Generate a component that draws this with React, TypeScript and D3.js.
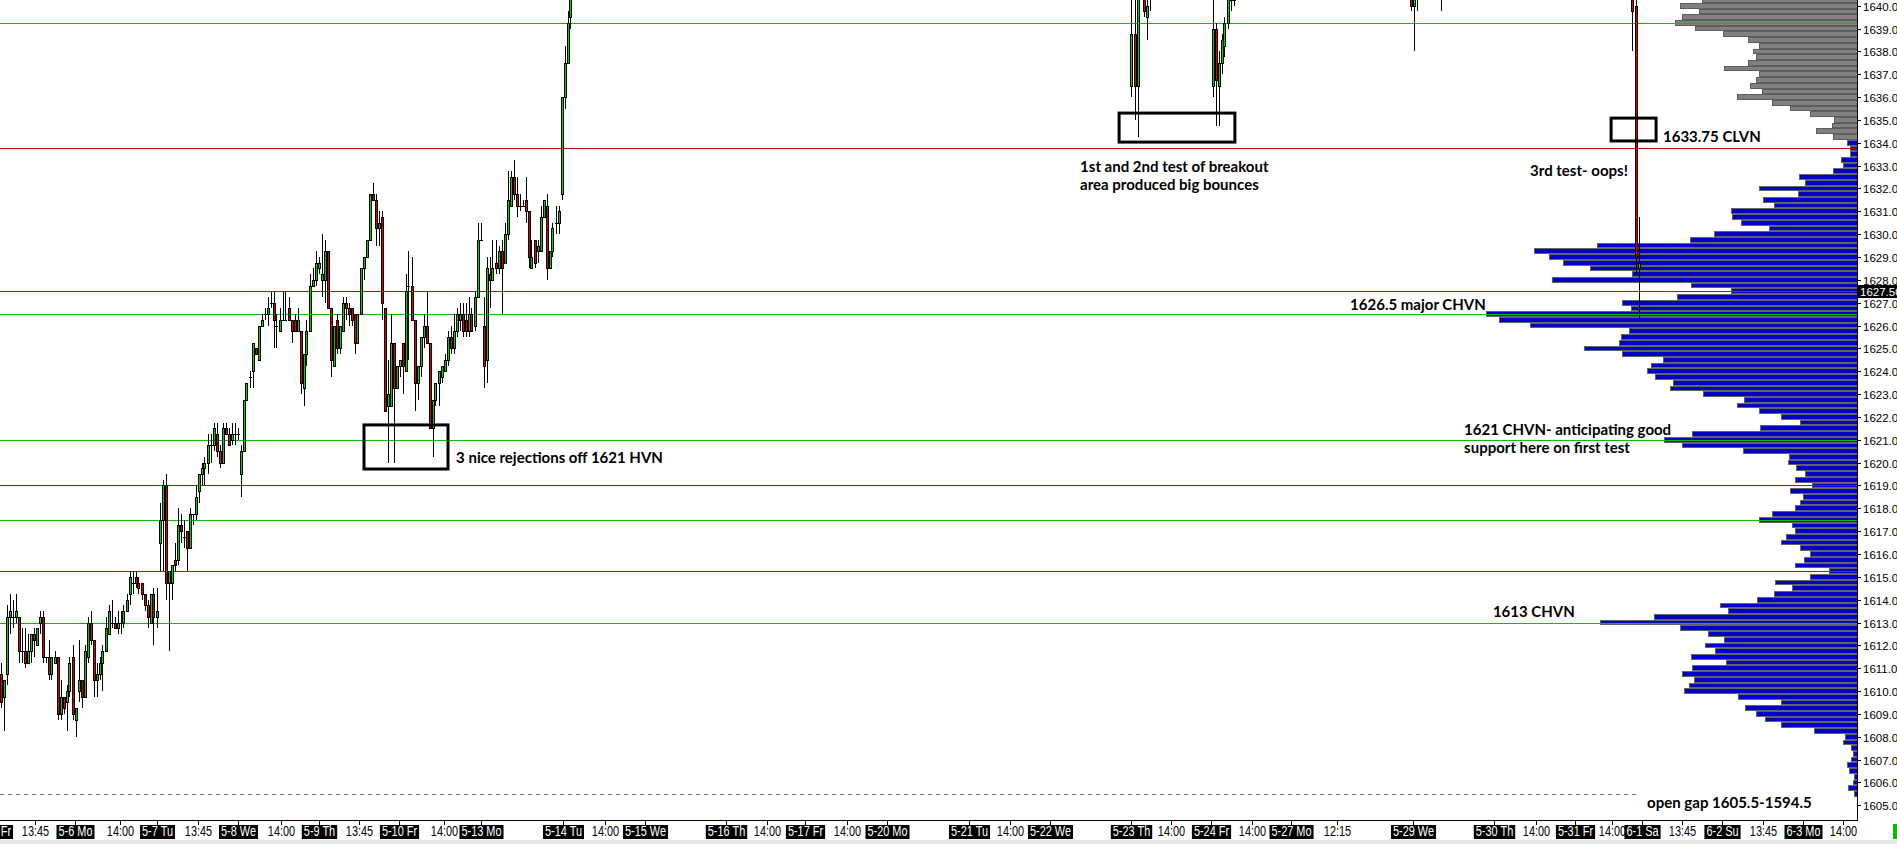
import { useEffect, useRef } from 'react';
import * as d3 from 'd3';

const W = 1897;
const H = 844;
const PLOT_RIGHT = 1857;
const PLOT_BOTTOM = 820;

// first session, one bar per slot starting at bar 0
const sessionOpen = [
  1610.75, 1609.75, 1610.75, 1613.25, 1613.25, 1613.25, 1613.25, 1611.75, 1611.75, 1611.25,
  1611.75, 1612.5, 1612.0, 1613.0, 1613.25, 1611.5, 1611.5, 1610.75, 1611.25, 1611.5,
  1609.0, 1609.75, 1609.5, 1610.0, 1611.5, 1608.75, 1610.0, 1610.5, 1609.75, 1611.5,
  1613.0, 1612.25, 1610.5, 1610.75, 1611.25, 1611.75, 1612.5, 1613.0, 1613.0, 1612.75,
  1613.0, 1613.0, 1613.5, 1614.25, 1614.75, 1615.0, 1614.75, 1614.75, 1614.25, 1613.75,
  1613.0, 1614.25, 1613.25, 1616.5, 1617.5, 1619.0, 1614.75, 1614.75, 1615.75, 1615.75,
  1617.25, 1616.75, 1617.0, 1616.25, 1617.75, 1617.75, 1618.75, 1619.5, 1619.75, 1620.0,
  1620.75, 1620.75, 1621.25, 1620.5, 1620.0, 1621.5, 1621.25, 1621.0, 1621.25, 1621.25,
  1619.5, 1620.5, 1622.75, 1623.75, 1624.0, 1625.0, 1624.5, 1626.0, 1626.5, 1626.5,
  1627.0, 1627.0, 1626.0, 1625.75, 1626.25, 1626.25, 1626.75, 1626.25, 1626.25, 1625.75,
  1625.75, 1623.25, 1624.75, 1625.75, 1627.75, 1628.0, 1628.5, 1628.0, 1628.0, 1629.25,
  1626.75, 1624.25, 1626.25, 1625.0, 1625.75, 1627.0, 1626.75, 1626.75, 1626.5, 1625.25,
  1626.5, 1628.5, 1629.0, 1629.75, 1631.75, 1631.5, 1630.25, 1630.75, 1626.75, 1622.5,
  1622.5, 1625.25, 1623.25, 1624.25, 1625.25, 1624.0, 1627.75, 1627.75, 1626.25, 1623.5,
  1624.25, 1625.5, 1626.0, 1625.25, 1621.5, 1622.75, 1623.5, 1623.75, 1624.0, 1624.5,
  1625.5, 1625.0, 1625.75, 1626.25, 1626.5, 1626.25, 1625.75, 1626.5, 1626.0, 1627.25,
  1629.75, 1626.0, 1624.5, 1628.25, 1628.0, 1628.75, 1628.5, 1629.25, 1628.75, 1630.0,
  1631.25, 1632.5, 1631.75, 1631.25, 1631.25, 1631.5, 1631.0, 1628.5, 1629.75, 1629.25,
  1629.25, 1630.75, 1631.25, 1628.5, 1629.25, 1630.5, 1630.5, 1631.75, 1636.0, 1637.5,
  1639.5
];
const sessionHigh = [
  1611.25, 1610.5, 1613.75, 1614.25, 1614.0, 1614.25, 1613.25, 1612.75, 1612.75, 1612.5,
  1612.5, 1612.75, 1612.75, 1613.5, 1613.5, 1611.5, 1612.25, 1611.5, 1611.75, 1611.5,
  1610.5, 1609.75, 1610.25, 1611.5, 1612.0, 1609.25, 1612.25, 1610.5, 1612.0, 1613.25,
  1613.5, 1612.25, 1611.25, 1611.5, 1612.0, 1613.25, 1613.75, 1614.0, 1613.25, 1613.5,
  1613.5, 1613.75, 1614.25, 1615.25, 1615.25, 1615.25, 1615.0, 1614.75, 1614.25, 1614.0,
  1614.25, 1614.5, 1614.5, 1618.25, 1619.25, 1619.5, 1615.25, 1615.5, 1616.5, 1618.0,
  1617.75, 1617.5, 1617.0, 1618.0, 1617.75, 1619.0, 1619.5, 1620.0, 1620.25, 1621.25,
  1621.25, 1621.75, 1621.75, 1620.75, 1621.75, 1621.75, 1621.5, 1621.75, 1621.75, 1621.5,
  1620.75, 1622.75, 1623.5, 1624.0, 1625.25, 1625.0, 1626.0, 1626.5, 1626.75, 1627.25,
  1627.5, 1627.5, 1626.5, 1626.75, 1627.5, 1627.5, 1627.25, 1626.25, 1626.5, 1626.75,
  1625.75, 1624.75, 1626.25, 1628.25, 1628.5, 1629.25, 1629.0, 1630.0, 1629.75, 1629.25,
  1626.75, 1626.0, 1626.5, 1626.0, 1627.25, 1627.25, 1627.0, 1626.75, 1626.5, 1626.5,
  1628.5, 1629.0, 1629.75, 1631.75, 1632.25, 1631.75, 1631.0, 1631.0, 1626.75, 1624.5,
  1626.5, 1625.25, 1624.25, 1624.5, 1625.25, 1628.25, 1629.25, 1629.0, 1626.25, 1624.25,
  1625.5, 1626.5, 1627.5, 1625.25, 1622.75, 1623.5, 1624.0, 1624.25, 1624.75, 1625.75,
  1626.0, 1626.5, 1626.75, 1627.0, 1627.0, 1627.0, 1627.25, 1626.75, 1627.5, 1630.5,
  1630.5, 1627.25, 1629.0, 1629.0, 1629.75, 1629.75, 1629.5, 1629.75, 1630.5, 1632.75,
  1632.75, 1633.25, 1632.5, 1631.75, 1631.5, 1632.5, 1631.0, 1629.75, 1629.75, 1629.75,
  1631.25, 1631.5, 1631.75, 1629.25, 1630.5, 1631.25, 1631.25, 1636.0, 1638.25, 1639.75,
  1641.5
];
const sessionLow = [
  1609.25, 1608.25, 1610.25, 1612.5, 1612.75, 1613.0, 1611.25, 1611.25, 1611.0, 1611.25,
  1611.25, 1611.5, 1612.0, 1612.5, 1611.25, 1611.25, 1610.5, 1610.5, 1611.25, 1608.75,
  1608.75, 1609.0, 1608.25, 1609.75, 1608.75, 1608.0, 1609.5, 1609.25, 1609.75, 1611.25,
  1612.0, 1609.75, 1609.75, 1610.5, 1610.0, 1611.75, 1612.5, 1612.75, 1612.75, 1612.5,
  1612.5, 1612.75, 1613.5, 1613.75, 1614.25, 1614.5, 1614.25, 1614.0, 1613.5, 1612.75,
  1613.0, 1612.0, 1612.75, 1615.25, 1615.25, 1614.0, 1611.75, 1614.0, 1615.25, 1615.5,
  1616.5, 1616.25, 1615.25, 1616.25, 1617.25, 1617.5, 1618.25, 1619.0, 1619.0, 1619.5,
  1620.0, 1620.5, 1620.25, 1619.75, 1620.0, 1621.25, 1620.75, 1620.75, 1620.75, 1621.0,
  1618.5, 1620.5, 1622.75, 1623.25, 1623.25, 1624.75, 1624.5, 1626.0, 1626.25, 1626.0,
  1626.75, 1625.0, 1625.0, 1625.75, 1626.25, 1626.25, 1626.25, 1625.25, 1625.75, 1625.75,
  1623.0, 1622.5, 1624.25, 1625.75, 1627.75, 1627.75, 1628.25, 1627.25, 1627.0, 1626.75,
  1623.75, 1624.25, 1624.75, 1624.75, 1625.75, 1626.25, 1626.0, 1626.0, 1624.75, 1625.25,
  1626.5, 1628.0, 1629.0, 1629.75, 1631.5, 1629.5, 1629.5, 1626.25, 1622.25, 1620.0,
  1622.5, 1620.0, 1623.25, 1623.75, 1623.0, 1624.0, 1624.5, 1626.25, 1622.25, 1622.75,
  1623.75, 1625.0, 1625.25, 1621.5, 1620.25, 1622.5, 1622.5, 1623.5, 1624.0, 1624.25,
  1624.75, 1624.75, 1625.5, 1625.75, 1625.5, 1625.5, 1625.5, 1625.75, 1625.75, 1627.25,
  1629.75, 1623.25, 1623.5, 1626.75, 1628.0, 1628.25, 1628.25, 1626.5, 1628.75, 1629.75,
  1631.25, 1631.5, 1630.75, 1631.0, 1631.25, 1630.5, 1628.5, 1628.5, 1628.5, 1628.75,
  1629.25, 1630.75, 1628.0, 1628.5, 1629.0, 1630.0, 1630.0, 1631.5, 1635.5, 1637.5,
  1639.0
];
const sessionClose = [
  1609.5, 1610.5, 1613.25, 1613.5, 1613.25, 1613.5, 1611.75, 1611.75, 1611.25, 1611.75,
  1612.5, 1612.25, 1612.75, 1613.25, 1611.5, 1611.5, 1610.75, 1611.5, 1611.5, 1609.0,
  1609.75, 1609.25, 1610.0, 1611.25, 1609.0, 1609.25, 1610.5, 1609.75, 1611.75, 1613.0,
  1612.25, 1610.5, 1610.75, 1611.25, 1611.75, 1612.75, 1613.5, 1613.0, 1612.75, 1613.0,
  1613.0, 1613.5, 1614.0, 1615.0, 1614.75, 1614.75, 1614.5, 1614.25, 1613.75, 1613.25,
  1614.25, 1613.25, 1613.5, 1617.5, 1619.0, 1614.75, 1615.25, 1615.5, 1615.5, 1617.25,
  1617.0, 1616.75, 1616.25, 1617.75, 1617.75, 1618.5, 1619.5, 1619.75, 1620.0, 1620.75,
  1620.75, 1621.5, 1620.5, 1620.0, 1621.5, 1621.25, 1620.75, 1621.25, 1621.25, 1621.25,
  1620.5, 1622.75, 1623.5, 1623.75, 1625.25, 1624.75, 1626.0, 1626.25, 1626.5, 1626.75,
  1627.0, 1626.25, 1626.0, 1626.25, 1626.25, 1626.25, 1626.25, 1625.75, 1625.75, 1626.25,
  1623.5, 1624.75, 1625.75, 1627.75, 1628.0, 1628.75, 1628.75, 1628.25, 1629.25, 1626.75,
  1624.5, 1626.0, 1625.0, 1626.0, 1627.0, 1626.75, 1626.5, 1626.25, 1625.25, 1626.5,
  1628.5, 1629.0, 1629.75, 1631.75, 1631.5, 1630.25, 1630.5, 1627.0, 1622.25, 1623.0,
  1625.25, 1623.25, 1624.25, 1624.5, 1624.25, 1627.5, 1627.75, 1626.25, 1623.5, 1624.25,
  1625.5, 1626.0, 1625.25, 1621.5, 1622.75, 1623.5, 1624.0, 1624.25, 1624.5, 1625.5,
  1625.0, 1625.75, 1626.5, 1626.5, 1625.75, 1625.75, 1626.5, 1625.75, 1627.25, 1629.75,
  1629.75, 1624.25, 1628.5, 1628.0, 1628.5, 1628.5, 1629.25, 1628.5, 1630.0, 1631.5,
  1632.5, 1631.75, 1631.25, 1631.25, 1631.25, 1631.0, 1629.0, 1629.0, 1628.75, 1629.5,
  1630.75, 1631.5, 1628.5, 1629.25, 1630.25, 1630.5, 1631.0, 1636.0, 1637.5, 1639.25,
  1641.0
];

// later bars that dip down into the visible range
const laterBar = [377, 378, 379, 380, 381, 382, 383, 404, 405, 406, 407, 408, 409, 410, 411, 470, 471, 472, 480, 544, 545, 546];
const laterOpen = [1636.5, 1638.75, 1636.5, 1641.0, 1641.0, 1639.5, 1641.0, 1636.5, 1639.0, 1636.5, 1637.5, 1638.25, 1639.25, 1640.75, 1640.25, 1641.0, 1640.0, 1640.5, 1641.0, 1641.0, 1640.0, 1628.5];
const laterHigh = [1641.0, 1641.0, 1642.0, 1642.0, 1641.5, 1640.5, 1642.0, 1640.5, 1639.25, 1638.0, 1638.75, 1639.5, 1641.0, 1641.25, 1641.5, 1641.25, 1641.0, 1641.25, 1641.5, 1641.5, 1640.5, 1630.75];
const laterLow = [1636.0, 1635.0, 1634.25, 1640.5, 1639.5, 1638.5, 1639.75, 1636.0, 1634.75, 1634.75, 1637.0, 1637.75, 1639.0, 1639.75, 1640.0, 1639.75, 1638.0, 1639.75, 1639.75, 1638.0, 1628.25, 1626.25];
const laterClose = [1638.75, 1636.5, 1641.0, 1641.5, 1639.75, 1640.0, 1641.5, 1639.0, 1636.75, 1637.5, 1638.5, 1639.25, 1640.5, 1640.25, 1641.0, 1640.0, 1640.5, 1641.0, 1640.5, 1639.75, 1629.0, 1628.75];

// volume profile, one row per 0.25 from 1640.25 down to 1605.5
const profileTopPrice = 1640.25;
const profileGrayFrom = 1634.25;
const profileVolume = [
  155, 177, 158, 175, 182, 162, 134, 109, 98, 104,
  101, 109, 133, 98, 101, 107, 95, 120, 85, 67,
  47, 23, 25, 41, 24, 10, 7, 7, 16, 14,
  24, 58, 52, 98, 59, 94, 83, 126, 125, 116,
  88, 143, 167, 260, 323, 308, 294, 267, 225, 305,
  166, 126, 180, 235, 226, 371, 358, 327, 228, 236,
  238, 273, 235, 194, 206, 210, 202, 184, 187, 154,
  113, 120, 98, 76, 57, 97, 165, 193, 175, 114,
  68, 69, 61, 52, 62, 45, 67, 54, 57, 62,
  85, 98, 65, 62, 71, 76, 57, 47, 53, 62,
  28, 47, 82, 65, 83, 100, 137, 129, 203, 257,
  177, 149, 133, 152, 142, 166, 131, 165, 175, 163,
  168, 173, 119, 76, 112, 101, 92, 76, 43, 12,
  14, 6, 4, 6, 10, 8, 3, 4, 9, 3
];

const greenLevels = [1639.25, 1626.5, 1621, 1617.5, 1613];
const redLevels = [1633.75, 1627.5, 1619, 1615.25];
const gapLevel = 1605.5;
const lastPrice = 1627.5;
const priceTicks = d3.range(1605, 1641, 1);

const axisLabels = [
  '5-3 Fr', '13:45', '5-6 Mo', '14:00', '5-7 Tu', '13:45', '5-8 We', '14:00', '5-9 Th', '13:45',
  '5-10 Fr', '14:00', '5-13 Mo', '5-14 Tu', '14:00', '5-15 We', '5-16 Th', '14:00', '5-17 Fr', '14:00',
  '5-20 Mo', '5-21 Tu', '14:00', '5-22 We', '5-23 Th', '14:00', '5-24 Fr', '14:00', '5-27 Mo', '12:15',
  '5-29 We', '5-30 Th', '14:00', '5-31 Fr', '14:00', '6-1 Sa', '13:45', '6-2 Su', '13:45', '6-3 Mo',
  '14:00'
];
const axisLabelBars = [
  -1.7, 11.3, 24.7, 39.7, 52, 65.7, 79, 93.3, 106, 119.3,
  132.7, 147.7, 160, 187.3, 201.3, 214.7, 241.7, 255.3, 268, 282,
  295.3, 322.7, 336.3, 349.7, 376.7, 390, 403.3, 417, 430, 445.3,
  470.7, 497.7, 511.7, 524.7, 537, 547, 560.3, 573.7, 587.3, 600.7,
  614
];

const noteLines = [
  '3 nice rejections off 1621 HVN',
  '1st and 2nd test of breakout',
  'area produced big bounces',
  '1633.75 CLVN',
  '3rd test- oops!',
  '1626.5 major CHVN',
  '1621 CHVN- anticipating good',
  'support here on first test',
  '1613 CHVN',
  'open gap 1605.5-1594.5'
];
const noteBars = [151.7, 359.7, 359.7, 554, 509.7, 449.7, 487.7, 487.7, 497.3, 548.7];
const notePrices = [1620.0, 1632.73, 1631.93, 1634.03, 1632.55, 1626.68, 1621.21, 1620.42, 1613.24, 1604.88];

const boxBarFrom = [121, 372.7, 536.7];
const boxBarTo = [149, 411.3, 551.7];
const boxPriceTop = [1621.65, 1635.3, 1635.08];
const boxPriceBottom = [1619.72, 1634.03, 1634.08];

export default function App() {
  const svgRef = useRef<SVGSVGElement>(null);

  useEffect(() => {
    if (!svgRef.current) return;
    const svg = d3.select(svgRef.current);
    svg.selectAll('*').remove();

    const x = d3.scaleLinear().domain([0, 619]).range([1, 1858]);
    const y = d3.scaleLinear().domain([1605, 1640]).range([805.3, 5.7]);
    const volW = d3.scaleLinear().domain([0, 400]).range([0, 400]);

    svg.append('rect').attr('width', W).attr('height', H).attr('fill', '#fff');

    svg.append('defs').append('clipPath').attr('id', 'plot-clip')
      .append('rect').attr('x', 0).attr('y', 0).attr('width', PLOT_RIGHT).attr('height', PLOT_BOTTOM);

    const plot = svg.append('g').attr('clip-path', 'url(#plot-clip)');

    // volume profile
    profileVolume.forEach((v, i) => {
      const p = profileTopPrice - i * 0.25;
      const y0 = Math.round(y(p + 0.125));
      const y1 = Math.round(y(p - 0.125));
      const w = Math.round(volW(v));
      const gray = p >= profileGrayFrom;
      plot.append('rect')
        .attr('x', PLOT_RIGHT - w + 0.5)
        .attr('y', y0 + 0.5)
        .attr('width', w)
        .attr('height', y1 - y0 - 1)
        .attr('fill', gray ? '#808080' : '#0000c8')
        .attr('stroke', gray ? '#5e5e5e' : '#646464')
        .attr('stroke-width', 1);
    });

    // level lines
    const levelLine = (p: number, color: string) => {
      const yy = Math.round(y(p)) + 0.5;
      plot.append('line')
        .attr('x1', 0).attr('x2', PLOT_RIGHT)
        .attr('y1', yy).attr('y2', yy)
        .attr('stroke', color).attr('stroke-width', 1);
    };
    greenLevels.forEach(p => levelLine(p, '#00c000'));
    redLevels.forEach(p => levelLine(p, '#d00000'));
    const gy = Math.round(y(gapLevel)) + 0.5;
    plot.append('line')
      .attr('x1', 0).attr('x2', 1637)
      .attr('y1', gy).attr('y2', gy)
      .attr('stroke', '#707070').attr('stroke-dasharray', '4,4');

    // candles
    type Candle = { bar: number; o: number; h: number; l: number; c: number };
    const candles: Candle[] = [
      ...sessionOpen.map((o, i) => ({ bar: i, o, h: sessionHigh[i], l: sessionLow[i], c: sessionClose[i] })),
      ...laterBar.map((b, i) => ({ bar: b, o: laterOpen[i], h: laterHigh[i], l: laterLow[i], c: laterClose[i] }))
    ];
    candles.forEach(d => {
      const cx = Math.floor(x(d.bar));
      plot.append('line')
        .attr('x1', cx + 0.5).attr('x2', cx + 0.5)
        .attr('y1', Math.round(y(d.h))).attr('y2', Math.round(y(d.l)))
        .attr('stroke', '#000').attr('stroke-width', 1);
      const top = Math.round(y(Math.max(d.o, d.c)));
      const bot = Math.round(y(Math.min(d.o, d.c)));
      plot.append('rect')
        .attr('x', cx - 1).attr('y', top)
        .attr('width', 3).attr('height', Math.max(1, bot - top + 1))
        .attr('fill', '#000');
      if (bot - top >= 2) {
        plot.append('rect')
          .attr('x', cx).attr('y', top + 1)
          .attr('width', 1).attr('height', bot - top - 1)
          .attr('fill', d.c >= d.o ? '#00d200' : '#dd0000');
      }
    });

    // annotation boxes
    boxBarFrom.forEach((b, i) => {
      const x0 = x(b);
      const x1 = x(boxBarTo[i]);
      const y0 = y(boxPriceTop[i]);
      const y1 = y(boxPriceBottom[i]);
      plot.append('rect')
        .attr('x', x0).attr('y', y0)
        .attr('width', x1 - x0).attr('height', y1 - y0)
        .attr('fill', 'none').attr('stroke', '#000').attr('stroke-width', 3);
    });

    // annotation texts
    noteLines.forEach((t, i) => {
      plot.append('text')
        .attr('x', x(noteBars[i]))
        .attr('y', y(notePrices[i]))
        .attr('font-family', 'Lato, "Open Sans", sans-serif')
        .attr('font-weight', 700)
        .attr('font-size', 15)
        .attr('fill', '#000')
        .text(t);
    });

    // right price axis
    svg.append('line')
      .attr('x1', PLOT_RIGHT + 0.5).attr('x2', PLOT_RIGHT + 0.5)
      .attr('y1', 0).attr('y2', PLOT_BOTTOM + 1)
      .attr('stroke', '#000');
    priceTicks.forEach(p => {
      const yy = Math.round(y(p)) + 0.5;
      svg.append('line')
        .attr('x1', PLOT_RIGHT).attr('x2', PLOT_RIGHT + 4)
        .attr('y1', yy).attr('y2', yy)
        .attr('stroke', '#000');
      svg.append('text')
        .attr('x', PLOT_RIGHT + 6)
        .attr('y', yy + 4)
        .attr('font-family', '"Liberation Sans", Arial, sans-serif')
        .attr('font-size', 11.5)
        .attr('fill', '#000')
        .text(d3.format('.2f')(p));
    });
    const ly = Math.round(y(lastPrice));
    svg.append('rect')
      .attr('x', PLOT_RIGHT + 1).attr('y', ly - 6)
      .attr('width', W - PLOT_RIGHT).attr('height', 13)
      .attr('fill', '#000');
    svg.append('text')
      .attr('x', PLOT_RIGHT + 3)
      .attr('y', ly + 4.5)
      .attr('font-family', '"Liberation Sans", Arial, sans-serif')
      .attr('font-size', 11.5)
      .attr('fill', '#fff')
      .text(d3.format('.2f')(lastPrice));

    // bottom time axis
    svg.append('line')
      .attr('x1', 0).attr('x2', PLOT_RIGHT + 1)
      .attr('y1', PLOT_BOTTOM + 0.5).attr('y2', PLOT_BOTTOM + 0.5)
      .attr('stroke', '#000');
    const axisG = svg.append('g');
    axisLabels.forEach((lab, i) => {
      const xx = Math.round(x(axisLabelBars[i])) + 0.5;
      const isDate = lab.includes('-');
      axisG.append('line')
        .attr('x1', xx).attr('x2', xx)
        .attr('y1', PLOT_BOTTOM).attr('y2', PLOT_BOTTOM + 5)
        .attr('stroke', '#000');
      const g = axisG.append('g').attr('transform', `translate(${xx},836)`);
      const txt = g.append('text')
        .attr('transform', 'scale(0.78,1)')
        .attr('text-anchor', 'middle')
        .attr('font-family', '"Liberation Sans", Arial, sans-serif')
        .attr('font-size', 14)
        .attr('fill', isDate ? '#fff' : '#000')
        .text(lab);
      if (isDate) {
        const tw = (txt.node() as SVGTextElement).getComputedTextLength() * 0.78;
        g.insert('rect', 'text')
          .attr('x', -tw / 2 - 2).attr('y', -11)
          .attr('width', tw + 4).attr('height', 14)
          .attr('fill', '#000');
      }
    });

    svg.append('rect').attr('x', 0).attr('y', 840).attr('width', W).attr('height', 4).attr('fill', '#e6e6e6');
    svg.append('rect').attr('x', 1893).attr('y', 824).attr('width', 4).attr('height', 15).attr('fill', '#00c000');
  }, []);

  return (
    <svg
      ref={svgRef}
      width={W}
      height={H}
      style={{ position: 'absolute', left: 0, top: 0, display: 'block' }}
    />
  );
}
